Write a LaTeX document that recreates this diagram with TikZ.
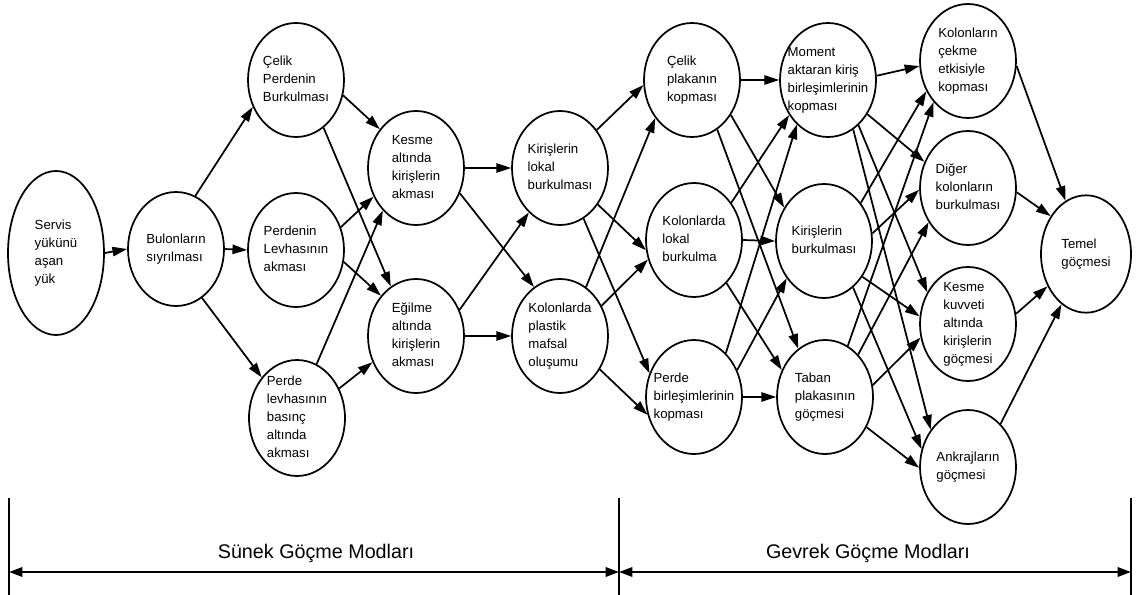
\documentclass[tikz,border=0pt]{standalone}
\usepackage{fontspec}
\setmainfont{Liberation Sans}
\usetikzlibrary{shapes.geometric,arrows.meta}

% text block of a failure mode, kept out of the ellipse size
\newcommand{\modetext}[1]{\makebox[0pt]{\raisebox{-2.5pt}[0pt][0pt]{\begin{tabular}{@{}l@{}}#1\end{tabular}}}}

\tikzset{
  mode/.style={draw, ellipse, line width=1.3pt, minimum width=72pt, minimum height=85.5pt,
    inner sep=0pt, font=\fontsize{9.9}{13.6}\selectfont},
  cause/.style={-{Triangle[length=11pt,width=7pt]}, line width=1.3pt},
  span/.style={{Triangle[length=10pt,width=7pt]}-{Triangle[length=10pt,width=7pt]}, line width=1.7pt},
  limit/.style={line width=0.8pt},
  group/.style={font=\fontsize{14.8}{18}\selectfont}
}

\begin{document}
\begin{tikzpicture}[x=0.75pt, y=-0.75pt]
\useasboundingbox (0,0) rectangle (1138,595);

% ductile modes
\node[mode, minimum height=123pt] (servis) at (56,253) {\modetext{Servis\\yükünü\\aşan\\yük}};
\node[mode] (bulon) at (176,249) {\modetext{Bulonların\\sıyrılması}};
\node[mode] (celikPerde) at (296,80) {\modetext{Çelik\\Perdenin\\Burkulması}};
\node[mode] (perdeLevha) at (296,250) {\modetext{Perdenin\\Levhasının\\akması}};
\node[mode, minimum height=87pt] (perdeBasinc) at (297,418) {\modetext{Perde\\levhasının\\basınç\\altında\\akması}};
\node[mode] (kesme) at (416,168) {\modetext{Kesme\\altında\\kirişlerin\\akması}};
\node[mode] (egilme) at (416,336) {\modetext{Eğilme\\altında\\kirişlerin\\akması}};
\node[mode] (kirisLokal) at (560,168) {\modetext{Kirişlerin\\lokal\\burkulması}};
\node[mode] (kolonPlastik) at (560,336) {\modetext{Kolonlarda\\plastik\\mafsal\\oluşumu}};

% brittle modes
\node[mode] (celikPlaka) at (692,80) {\modetext{Çelik\\plakanın\\kopması}};
\node[mode] (kolonLokal) at (694,240) {\modetext{Kolonlarda\\lokal\\burkulma}};
\node[mode] (perdeBirlesim) at (694,397) {\modetext{Perde\\birleşimlerinin\\kopması}};
\node[mode] (moment) at (828,80) {\modetext{Moment\\aktaran kiriş\\birleşimlerinin\\kopması}};
\node[mode] (kirisBurk) at (824,241) {\modetext{Kirişlerin\\burkulması}};
\node[mode] (taban) at (825,397) {\modetext{Taban\\plakasının\\göçmesi}};
\node[mode] (kolonCekme) at (968,61) {\modetext{Kolonların\\çekme\\etkisiyle\\kopması}};
\node[mode] (diger) at (968,188) {\modetext{Diğer\\kolonların\\burkulması}};
\node[mode] (kesmeKuvvet) at (968,324) {\modetext{Kesme\\kuvveti\\altında\\kirişlerin\\göçmesi}};
\node[mode] (ankraj) at (968,467) {\modetext{Ankrajların\\göçmesi}};
\node[mode, minimum width=67.5pt, minimum height=88pt] (temel) at (1086,254) {\modetext{Temel\\göçmesi}};

% connectors: from/angle/to/angle
\foreach \a/\p/\b/\q in {servis/0/bulon/180, bulon/70/celikPerde/212, bulon/0/perdeLevha/180,
  bulon/-62/perdeBasinc/131, celikPerde/-18/kesme/133, celikPerde/-60/egilme/117,
  perdeLevha/27/kesme/214, perdeLevha/-14/egilme/131, perdeBasinc/70/kesme/232,
  perdeBasinc/35/egilme/211, kesme/0/kirisLokal/180, kesme/-30/kolonPlastik/118,
  egilme/31/kirisLokal/235, egilme/0/kolonPlastik/180}
  \draw[cause] (\a.\p) -- (\b.\q);
\foreach \a/\p/\b/\q in {kirisLokal/46/celikPlaka/186, kirisLokal/-44/kolonLokal/192,
  kirisLokal/-65/perdeBirlesim/152, kolonPlastik/62/celikPlaka/226,
  kolonPlastik/36/kolonLokal/203, kolonPlastik/-40/perdeBirlesim/201,
  celikPlaka/0/moment/180, celikPlaka/-42/kirisBurk/140, celikPlaka/-63/taban/119,
  kolonLokal/45/moment/222, kolonLokal/0/kirisBurk/180, kolonLokal/-53/taban/148,
  perdeBirlesim/54/moment/235, perdeBirlesim/32/kirisBurk/225, perdeBirlesim/0/taban/180}
  \draw[cause] (\a.\p) -- (\b.\q);
\foreach \a/\p/\b/\q in {moment/5/kolonCekme/186, moment/-41/diger/149,
  moment/-56/kesmeKuvvet/142, moment/-63/ankraj/135,
  kirisBurk/46/kolonCekme/216, kirisBurk/9/diger/182, kirisBurk/-43/kesmeKuvvet/171,
  kirisBurk/-58/ankraj/159, taban/66/kolonCekme/230, taban/52/diger/221,
  taban/14/kesmeKuvvet/196, taban/-36/ankraj/181,
  kolonCekme/-6/temel/111, diger/-5/temel/133, kesmeKuvvet/12/temel/220, ankraj/53/temel/244}
  \draw[cause] (\a.\p) -- (\b.\q);

% ductile / brittle ranges
\foreach \x in {9,619,1131}
\draw[limit] (\x,498) -- (\x,595);
\coordinate (sunekBas) at (9,572);
\coordinate (ayrim) at (619,572);
\coordinate (gevrekSon) at (1131,572);
\draw[span] (sunekBas) -- (ayrim);
\draw[span] (ayrim) -- (gevrekSon);
\node[group] (sunek) at (316,553) {Sünek Göçme Modları};
\node[group] (gevrek) at (868,553) {Gevrek Göçme Modları};
\end{tikzpicture}
\end{document}
